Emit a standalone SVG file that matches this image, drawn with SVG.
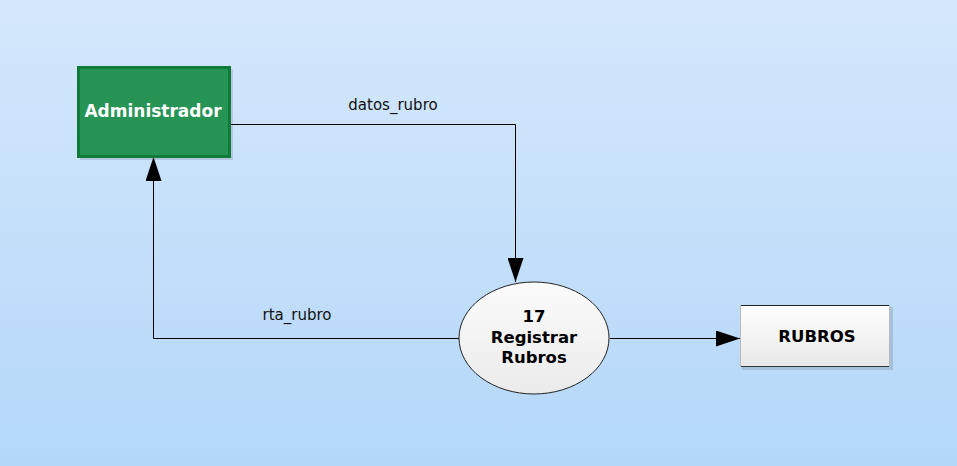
<svg xmlns="http://www.w3.org/2000/svg" width="957" height="466" viewBox="0 0 957 466">
  <defs>
    <linearGradient id="bg" x1="0" y1="0" x2="0" y2="1">
      <stop offset="0" stop-color="#d5e8fc"/>
      <stop offset="1" stop-color="#b4d7f9"/>
    </linearGradient>
    <linearGradient id="store" x1="0" y1="0" x2="0" y2="1">
      <stop offset="0" stop-color="#ffffff"/>
      <stop offset="1" stop-color="#e8e8e8"/>
    </linearGradient>
    <linearGradient id="proc" x1="0" y1="0" x2="0" y2="1">
      <stop offset="0" stop-color="#fbfbfb"/>
      <stop offset="1" stop-color="#ebebeb"/>
    </linearGradient>
    <marker id="arr" markerWidth="24" markerHeight="16" refX="24" refY="8" orient="auto" markerUnits="userSpaceOnUse">
      <path d="M0,0 L24,8 L0,16 Z" fill="#000"/>
    </marker>
  </defs>
  <style>
    .lbl { font-family: "DejaVu Sans", Verdana, sans-serif; font-size: 15px; fill: #111; }
    .nodeText { font-family: "DejaVu Sans", Verdana, sans-serif; font-size: 16.5px; font-weight: bold; text-anchor: middle; }
    .conn { fill: none; stroke: #000; stroke-width: 1; }
  </style>
  <rect x="0" y="0" width="957" height="466" fill="url(#bg)"/>

  <g id="connectors">
    <path class="conn" d="M230,124.5 H515.5 V282" marker-end="url(#arr)"/>
    <path class="conn" d="M459,338.5 H153.5 V157" marker-end="url(#arr)"/>
    <path class="conn" d="M610,338.5 H740" marker-end="url(#arr)"/>
    <text class="lbl" x="393" y="110" text-anchor="middle">datos_rubro</text>
    <text class="lbl" x="297" y="320" text-anchor="middle">rta_rubro</text>
  </g>

  <g id="admin">
    <rect x="80" y="69" width="153" height="91" fill="#000" opacity="0.12"/>
    <rect x="78.5" y="67.5" width="151" height="89" fill="#269455" stroke="#0f7a3a" stroke-width="3"/>
    <text class="nodeText" x="153" y="117" fill="#ffffff" style="font-size:17px">Administrador</text>
  </g>

  <g id="process17">
    <ellipse cx="534" cy="338" rx="75" ry="56" fill="url(#proc)" stroke="#222" stroke-width="1"/>
    <text class="nodeText" x="534" y="322" fill="#000">17</text>
    <text class="nodeText" x="534" y="343" fill="#000">Registrar</text>
    <text class="nodeText" x="534" y="363" fill="#000">Rubros</text>
  </g>

  <g id="rubros">
    <rect x="742" y="307" width="151" height="63" fill="#000" opacity="0.12"/>
    <rect x="740" y="305" width="150" height="62" fill="url(#store)"/>
    <line x1="740" y1="305.5" x2="890" y2="305.5" stroke="#222" stroke-width="1"/>
    <line x1="740" y1="366.5" x2="890" y2="366.5" stroke="#333" stroke-width="1"/>
    <line x1="740.5" y1="305" x2="740.5" y2="367" stroke="#bbb" stroke-width="1"/>
    <line x1="889.5" y1="305" x2="889.5" y2="367" stroke="#bbb" stroke-width="1"/>
    <text class="nodeText" x="817" y="342" fill="#000">RUBROS</text>
  </g>
</svg>
